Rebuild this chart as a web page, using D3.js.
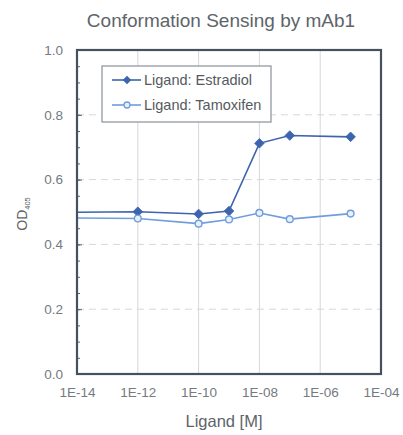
<!DOCTYPE html>
<html>
<head>
<meta charset="utf-8">
<script src="https://cdn.jsdelivr.net/npm/d3@7"></script>
<style>
  html, body { margin: 0; padding: 0; background: #fff; }
  svg { display: block; font-family: "Liberation Sans", Arial, sans-serif; }
</style>
</head>
<body>
<svg id="chart" width="403" height="435"></svg>
<script>
// Ligand concentrations (M) and OD405 readings
const concentrations = [1e-15, 1e-12, 1e-10, 1e-9, 1e-8, 1e-7, 1e-5];
const estradiol = [0.498, 0.501, 0.494, 0.503, 0.712, 0.736, 0.732];
const tamoxifen = [0.482, 0.480, 0.464, 0.477, 0.497, 0.478, 0.495];
const seriesNames = ["Ligand: Estradiol", "Ligand: Tamoxifen"];
const xTickValues = [1e-14, 1e-12, 1e-10, 1e-8, 1e-6, 1e-4];
const xTickLabels = ["1E-14", "1E-12", "1E-10", "1E-08", "1E-06", "1E-04"];
const yTickValues = [0, 0.2, 0.4, 0.6, 0.8, 1.0];

const svg = d3.select("#chart");
const m = { left: 77, right: 381, top: 50, bottom: 374 };

const x = d3.scaleLog().domain([1e-14, 1e-4]).range([m.left, m.right]);
const y = d3.scaleLinear().domain([0, 1]).range([m.bottom, m.top]);

const labelGray = "#747a80";
const textGray = "#5e6468";

// Title
svg.append("text")
  .attr("x", 221).attr("y", 27)
  .attr("text-anchor", "middle")
  .attr("font-size", 19).attr("fill", textGray)
  .text("Conformation Sensing by mAb1");

// Gridlines
const grid = svg.append("g");
grid.selectAll("line.v").data(xTickValues.slice(1, -1)).join("line")
  .attr("x1", d => x(d)).attr("x2", d => x(d))
  .attr("y1", m.top).attr("y2", m.bottom)
  .attr("stroke", "#d4d8dc").attr("stroke-width", 1);
grid.selectAll("line.h").data(yTickValues.slice(1, -1)).join("line")
  .attr("x1", m.left).attr("x2", m.right)
  .attr("y1", d => y(d)).attr("y2", d => y(d))
  .attr("stroke", "#d4d8dc").attr("stroke-width", 1)
  .attr("stroke-dasharray", "7,5");

// Y axis labels and ticks
const yAxis = d3.axisLeft(y).tickValues(yTickValues).tickFormat(d3.format(".1f"))
  .tickSize(-5).tickPadding(14);
svg.append("g").attr("transform", `translate(${m.left},0)`).call(yAxis)
  .call(g => g.select(".domain").remove())
  .call(g => g.selectAll("text").attr("font-size", 13.5).attr("fill", labelGray)
    .attr("font-family", "Liberation Sans, Arial, sans-serif"))
  .call(g => g.selectAll("line").attr("stroke", "#5a6672"));
const yMinor = d3.axisLeft(y).tickValues(d3.range(0.05, 1, 0.05)).tickSize(-3).tickFormat("");
svg.append("g").attr("transform", `translate(${m.left},0)`).call(yMinor)
  .call(g => g.select(".domain").remove())
  .call(g => g.selectAll("line").attr("stroke", "#5a6672"));

// X axis labels
const xAxis = d3.axisBottom(x).tickValues(xTickValues)
  .tickFormat((d, i) => xTickLabels[i]).tickSize(0).tickPadding(13);
svg.append("g").attr("transform", `translate(0,${m.bottom})`).call(xAxis)
  .call(g => g.select(".domain").remove())
  .call(g => g.selectAll("text").attr("font-size", 13.5).attr("fill", labelGray)
    .attr("font-family", "Liberation Sans, Arial, sans-serif"));

// Axis titles
svg.append("text")
  .attr("x", 224).attr("y", 427)
  .attr("text-anchor", "middle").attr("font-size", 16.5).attr("fill", textGray)
  .text("Ligand [M]");
const yt = svg.append("text")
  .attr("transform", "translate(27,214) rotate(-90)")
  .attr("text-anchor", "middle").attr("font-size", 14).attr("fill", textGray);
yt.append("tspan").text("OD");
yt.append("tspan").attr("font-size", 7.5).attr("dy", 3).text("405");

// Plot clip
svg.append("clipPath").attr("id", "plotClip").append("rect")
  .attr("x", m.left).attr("y", m.top)
  .attr("width", m.right - m.left).attr("height", m.bottom - m.top);

const line = d3.line().x(d => x(d[0])).y(d => y(d[1]));
const estData = concentrations.map((c, i) => [c, estradiol[i]]);
const tamData = concentrations.map((c, i) => [c, tamoxifen[i]]);
const colE = "#3d64ad";
const colT = "#6f9edb";

const plot = svg.append("g").attr("clip-path", "url(#plotClip)");
plot.append("path").datum(tamData).attr("d", line)
  .attr("fill", "none").attr("stroke", colT).attr("stroke-width", 1.6);
plot.append("path").datum(estData).attr("d", line)
  .attr("fill", "none").attr("stroke", colE).attr("stroke-width", 1.6);

// Estradiol: filled diamonds; Tamoxifen: open circles
plot.selectAll("path.est").data(estData).join("path")
  .attr("d", d3.symbol().type(d3.symbolSquare).size(46))
  .attr("transform", d => `translate(${x(d[0])},${y(d[1])}) rotate(45)`)
  .attr("fill", colE).attr("stroke", colE).attr("stroke-width", 0.8);
plot.selectAll("circle.tam").data(tamData).join("circle")
  .attr("cx", d => x(d[0])).attr("cy", d => y(d[1])).attr("r", 3.4)
  .attr("fill", "#e8f0fb").attr("stroke", colT).attr("stroke-width", 1.4);

// Frame
svg.append("rect")
  .attr("x", m.left).attr("y", m.top)
  .attr("width", m.right - m.left).attr("height", m.bottom - m.top)
  .attr("fill", "none").attr("stroke", "#45525e").attr("stroke-width", 2.2);

// Legend
const lg = svg.append("g");
lg.append("rect").attr("x", 102).attr("y", 66).attr("width", 169).attr("height", 56)
  .attr("fill", "#fff").attr("stroke", "#8a9298").attr("stroke-width", 1.2);
[[colE, 80], [colT, 105]].forEach(([c, yy], i) => {
  lg.append("line").attr("x1", 112).attr("x2", 141).attr("y1", yy).attr("y2", yy)
    .attr("stroke", c).attr("stroke-width", 1.6);
  if (i === 0) {
    lg.append("path").attr("d", d3.symbol().type(d3.symbolSquare).size(36)())
      .attr("transform", `translate(127,${yy}) rotate(45)`).attr("fill", c);
  } else {
    lg.append("circle").attr("cx", 127).attr("cy", yy).attr("r", 3)
      .attr("fill", "#e8f0fb").attr("stroke", c).attr("stroke-width", 1.3);
  }
  lg.append("text").attr("x", 144).attr("y", yy + 5)
    .attr("font-size", 14.5).attr("fill", "#565a60").text(seriesNames[i]);
});
</script>
</body>
</html>
